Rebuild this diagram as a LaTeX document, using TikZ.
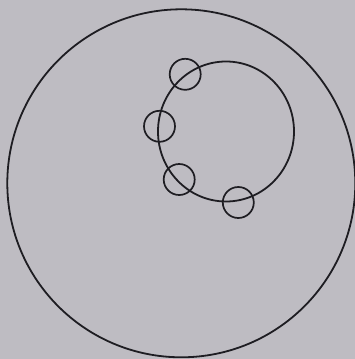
\documentclass[tikz,border=0pt]{standalone}
\usepackage{xcolor}
\usepackage{tikz}
\definecolor{ccPage}{HTML}{BEBCC2}
\definecolor{ccInk}{HTML}{1E1D22}

\begin{document}
\begin{tikzpicture}[
  x=1pt, y=-1pt,
  ring/.style={draw=ccInk, line width=1.8pt},
  bead/.style={circle, draw=ccInk, line width=1.7pt, minimum size=31pt, inner sep=0pt},
]
% page background and frame
\fill[ccPage] (0,0) rectangle (355,359);
\useasboundingbox (0,0) rectangle (355,359);
\clip (0,0) rectangle (355,359);
% outer circle and inner orbit
\coordinate (outerC) at (181.3,183.3);
\coordinate (innerC) at (226,131.5);
\draw[ring] (outerC) circle[radius=174];
\draw[ring] (innerC) ellipse[x radius=68, y radius=70];
% small circles sitting on the orbit
\node[bead] (b1) at (185.2,74.3) {};
\node[bead] (b2) at (159.5,126.3) {};
\node[bead] (b3) at (179.2,179.5) {};
\node[bead] (b4) at (238.3,202.5) {};
\end{tikzpicture}
\end{document}
